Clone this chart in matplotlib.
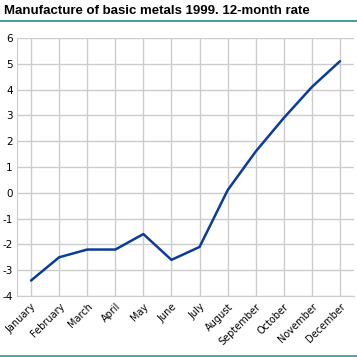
import matplotlib
matplotlib.use("Agg")
import matplotlib.pyplot as plt

months = ["January", "February", "March", "April", "May", "June", "July",
          "August", "September", "October", "November", "December"]
values = [-3.4, -2.5, -2.2, -2.2, -1.6, -2.6, -2.1, 0.1, 1.6, 2.9, 4.1, 5.1]
yticks = [-4, -3, -2, -1, 0, 1, 2, 3, 4, 5, 6]

fig = plt.figure(figsize=(3.57, 3.57), dpi=100)
ax = fig.add_axes([0.0476, 0.1709, 0.944, 0.7227])
x = list(range(len(months)))
ax.plot(x, values, color="#0a3c9b", lw=1.8, solid_capstyle="round")
ax.set_xlim(-0.5, len(months) - 0.5)
ax.set_ylim(-4, 6)
ax.set_yticks(yticks)
ax.set_yticklabels([str(v) for v in yticks], fontsize=7.5)
ax.set_xticks(x)
ax.set_xticklabels(months, rotation=45, ha="right", rotation_mode="anchor", fontsize=7)
ax.grid(True, color="#cccccc", lw=1)
ax.set_axisbelow(True)
for s in ["top", "right"]:
    ax.spines[s].set_visible(False)
for s in ["left", "bottom"]:
    ax.spines[s].set_color("#cccccc")
ax.tick_params(axis="both", length=0, pad=3, colors="black")
ax.tick_params(axis="x", pad=4)

fig.text(0.012, 0.97, "Manufacture of basic metals 1999. 12-month rate",
         fontsize=9.5, fontweight="bold", family="Liberation Sans",
         va="center", ha="left")
fig.add_artist(plt.Line2D([0.0, 1.0], [0.942, 0.942], color="#1a9090", lw=1.2))
fig.add_artist(plt.Line2D([0.0, 1.0], [0.004, 0.004], color="#1aa0a0", lw=1.2))
fig.savefig("out.png", dpi=100)
